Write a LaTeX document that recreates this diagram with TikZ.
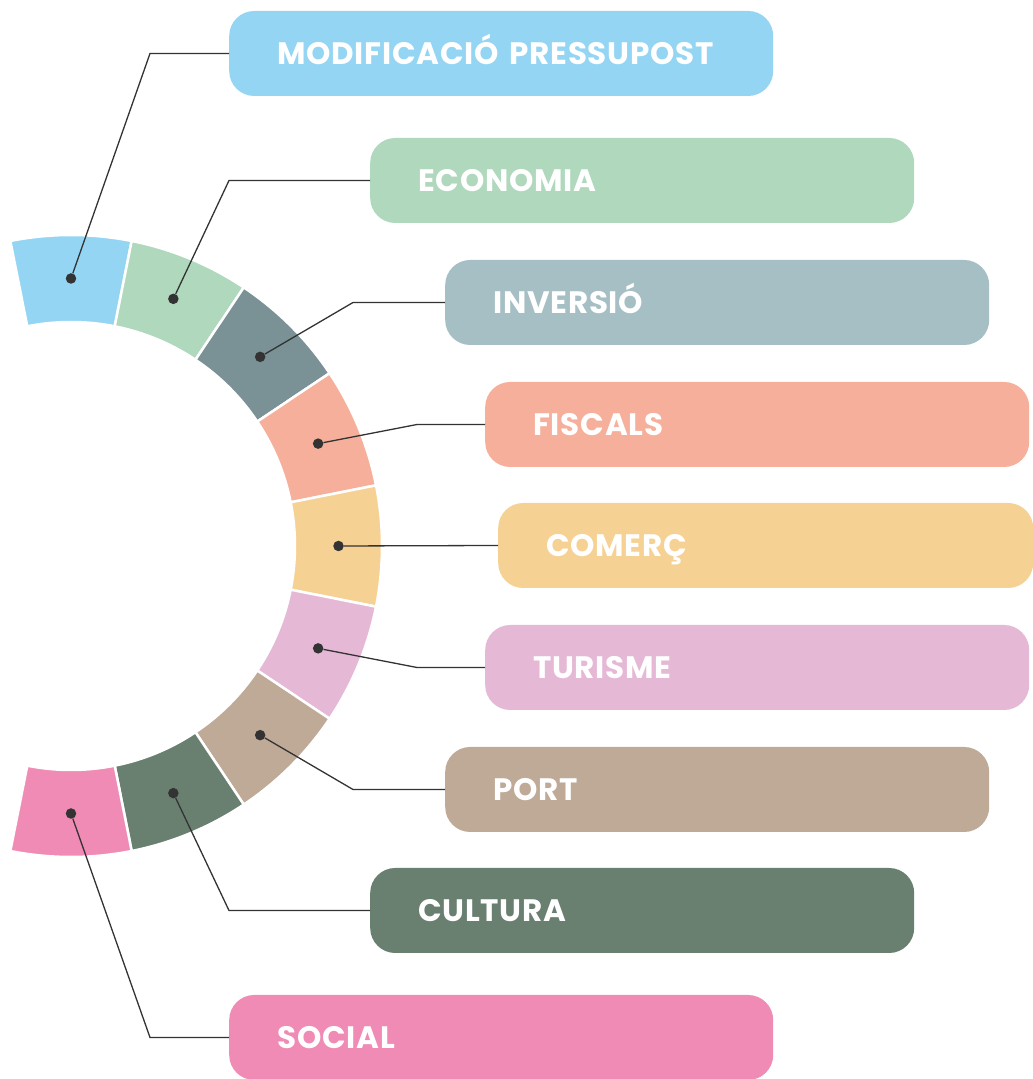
\documentclass[tikz,border=0pt]{standalone}
\usepackage{fontspec}
\setmainfont{Poppins}[LetterSpace=2.5]
\usetikzlibrary{calc}
\definecolor{cBlue}{HTML}{94D5F3}
\definecolor{cGreen}{HTML}{AFD8BD}
\definecolor{cSlate}{HTML}{7A9196}
\definecolor{cSlateBox}{HTML}{A6BFC4}
\definecolor{cSalmon}{HTML}{F5AF9B}
\definecolor{cYellow}{HTML}{F6D194}
\definecolor{cLav}{HTML}{E5B9D6}
\definecolor{cTaupe}{HTML}{BFAA97}
\definecolor{cDark}{HTML}{697F70}
\definecolor{cPink}{HTML}{EF8BB5}
\definecolor{linkc}{HTML}{333333}
\begin{document}
\begin{tikzpicture}[x=1pt,y=1pt,
  seg/.style={draw=white, line width=2.5pt, line join=miter},
  box/.style={rounded corners=25pt, minimum height=85pt, text width=448pt, text height=21.5pt, text depth=0pt, inner xsep=48pt, inner ysep=0pt, align=left, anchor=west, text=white, font=\bfseries\fontsize{31}{33}\selectfont},
  link/.style={draw=linkc, line width=1.3pt},
  dotc/.style={circle, fill=linkc, inner sep=0pt, minimum size=10.5pt}]
\useasboundingbox (0,0) rectangle (1033,1079);
\clip (0,0) rectangle (1033,1079);
\coordinate (c) at (71,533);
% ring segments
\foreach \a/\col in {90/cBlue,67.5/cGreen,45/cSlate,22.5/cSalmon,0/cYellow,-22.5/cLav,-45/cTaupe,-67.5/cDark,-90/cPink}{
  \pgfmathsetmacro{\aa}{\a-11.25}
  \pgfmathsetmacro{\ab}{\a+11.25}
  \filldraw[seg, fill=\col] ($(c)+(\aa:224)$) -- ($(c)+(\aa:311)$) arc[start angle=\aa, end angle=\ab, radius=311] -- ($(c)+(\ab:224)$) arc[start angle=\ab, end angle=\aa, radius=224] -- cycle;
}
% boxes
\node[box, fill=cBlue]     (b1) at (229,1025.5) {MODIFICACIÓ PRESSUPOST};
\node[box, fill=cGreen]    (b2) at (370,898.5)  {ECONOMIA};
\node[box, fill=cSlateBox] (b3) at (445,776.5)  {INVERSIÓ};
\node[box, fill=cSalmon]   (b4) at (485,654.5)  {FISCALS};
\node[box, fill=cYellow, text width=439pt] (b5) at (498,533.5) {COMERÇ};
\node[box, fill=cLav]      (b6) at (485,411.5)  {TURISME};
\node[box, fill=cTaupe]    (b7) at (445,289.5)  {PORT};
\node[box, fill=cDark]     (b8) at (370,168.5)  {CULTURA};
\node[box, fill=cPink]     (b9) at (229,41.5)   {SOCIAL};
% dots
\node[dotc] (d1) at ($(c)+(90:267.5)$) {};
\node[dotc] (d2) at ($(c)+(67.5:267.5)$) {};
\node[dotc] (d3) at ($(c)+(45:267.5)$) {};
\node[dotc] (d4) at ($(c)+(22.5:267.5)$) {};
\node[dotc] (d5) at ($(c)+(0:267.5)$) {};
\node[dotc] (d6) at ($(c)+(-22.5:267.5)$) {};
\node[dotc] (d7) at ($(c)+(-45:267.5)$) {};
\node[dotc] (d8) at ($(c)+(-67.5:267.5)$) {};
\node[dotc] (d9) at ($(c)+(-90:267.5)$) {};
% connectors
\draw[link] (d1) -- ([xshift=-79pt]b1.west) -- (b1.west);
\draw[link] (d2) -- ([xshift=-141pt]b2.west) -- (b2.west);
\draw[link] (d3) -- ([xshift=-92pt]b3.west) -- (b3.west);
\draw[link] (d4) -- ([xshift=-68pt]b4.west) -- (b4.west);
\draw[link] (d5) -- (b5.west);
\draw[link] (d6) -- ([xshift=-68pt]b6.west) -- (b6.west);
\draw[link] (d7) -- ([xshift=-92pt]b7.west) -- (b7.west);
\draw[link] (d8) -- ([xshift=-141pt]b8.west) -- (b8.west);
\draw[link] (d9) -- ([xshift=-79pt]b9.west) -- (b9.west);
\end{tikzpicture}
\end{document}
